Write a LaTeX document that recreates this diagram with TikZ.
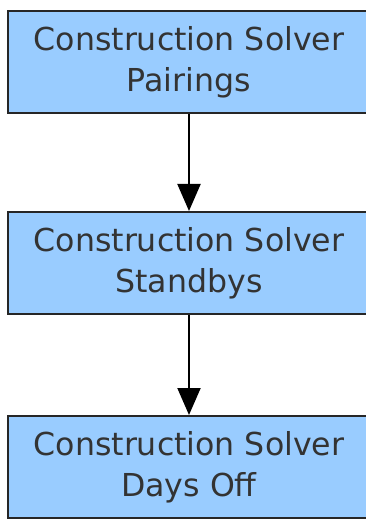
\documentclass[tikz,border=0pt]{standalone}
\usepackage{fontspec}
\setmainfont{DejaVu Sans}
\usepackage{tikz}
\usetikzlibrary{positioning, arrows.meta}
\definecolor{solverblue}{RGB}{153,204,255}

\begin{document}
\begin{tikzpicture}[x=1pt, y=-1pt,
    >={Triangle[width=23pt,length=27pt]},
    solverbox/.style={draw=black!85, line width=2pt, fill=solverblue,
      minimum width=362pt, minimum height=102pt, inner sep=0pt,
      align=center, text=black!80, font=\fontsize{31.6}{41}\selectfont}]
  \useasboundingbox (0,0) rectangle (366,521);
  % the three solver stages, top to bottom
  \node[solverbox] (pairings) at (189,62) {Construction Solver\\ Pairings};
  \node[solverbox, below=97pt of pairings] (standbys) {Construction Solver\\ Standbys};
  \node[solverbox, below=100pt of standbys] (daysoff) {Construction Solver\\ Days Off};
  % flow between stages
  \draw[->, line width=2pt] (pairings) -- (standbys);
  \draw[->, line width=2pt] (standbys) -- (daysoff);
\end{tikzpicture}
\end{document}
